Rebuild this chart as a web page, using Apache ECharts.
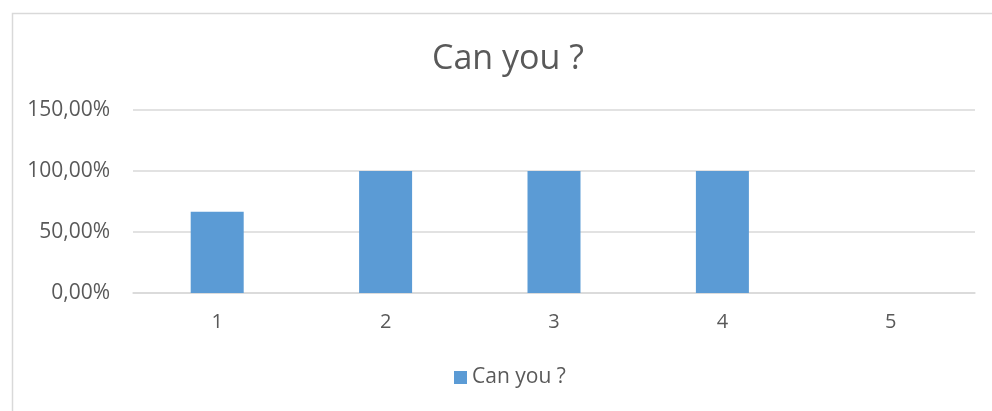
<!DOCTYPE html>
<html>
<head>
<meta charset="utf-8">
<script src="https://cdn.jsdelivr.net/npm/echarts@6/dist/echarts.min.js"></script>
<style>
  html, body { margin: 0; padding: 0; background: #fff; }
  #chart { width: 992px; height: 411px; }
</style>
</head>
<body>
<div id="chart"></div>
<script>
// Survey answers: share of "Can you ?" per question
const categories = ['1', '2', '3', '4', '5'];
const canYouValues = [0.6667, 1.0, 1.0, 1.0, 0];
const yTicks = [0, 0.5, 1.0, 1.5];

const seriesName = 'Can you ?';
const fontFamily = '"Open Sans", "Noto Sans", sans-serif';
const textColor = '#595959';

function pct(v) {
  return (v * 100).toFixed(2).replace('.', ',') + '%';
}

const chart = echarts.init(document.getElementById('chart'));
chart.setOption({
  animation: false,
  backgroundColor: '#fff',
  graphic: [{
    type: 'rect',
    left: 10, top: 11,
    shape: { width: 1000, height: 420 },
    style: { fill: 'none', stroke: '#D9D9D9', lineWidth: 1.5 },
    silent: true
  }],
  title: {
    text: seriesName,
    left: 427,
    top: 37,
    textStyle: { color: textColor, fontFamily, fontSize: 34, fontWeight: 'normal' }
  },
  legend: {
    data: [seriesName],
    bottom: 18,
    left: 449,
    icon: 'rect',
    itemWidth: 13,
    itemHeight: 13,
    itemGap: 6,
    textStyle: { color: textColor, fontFamily, fontSize: 21 }
  },
  grid: { left: 133, right: 17, top: 110, bottom: 118 },
  xAxis: {
    type: 'category',
    data: categories,
    axisLine: { lineStyle: { color: '#D9D9D9', width: 1.5 } },
    axisTick: { show: false },
    axisLabel: { color: textColor, fontFamily, fontSize: 20, margin: 19 }
  },
  yAxis: {
    type: 'value',
    min: yTicks[0],
    max: yTicks[yTicks.length - 1],
    interval: yTicks[1] - yTicks[0],
    axisLine: { show: false },
    axisTick: { show: false },
    splitLine: { lineStyle: { color: '#D9D9D9', width: 1.5 } },
    axisLabel: { color: textColor, fontFamily, fontSize: 21, margin: 23, formatter: pct }
  },
  series: [{
    name: seriesName,
    type: 'bar',
    data: canYouValues,
    barWidth: 53,
    itemStyle: { color: '#5B9BD5' }
  }]
});
</script>
</body>
</html>
